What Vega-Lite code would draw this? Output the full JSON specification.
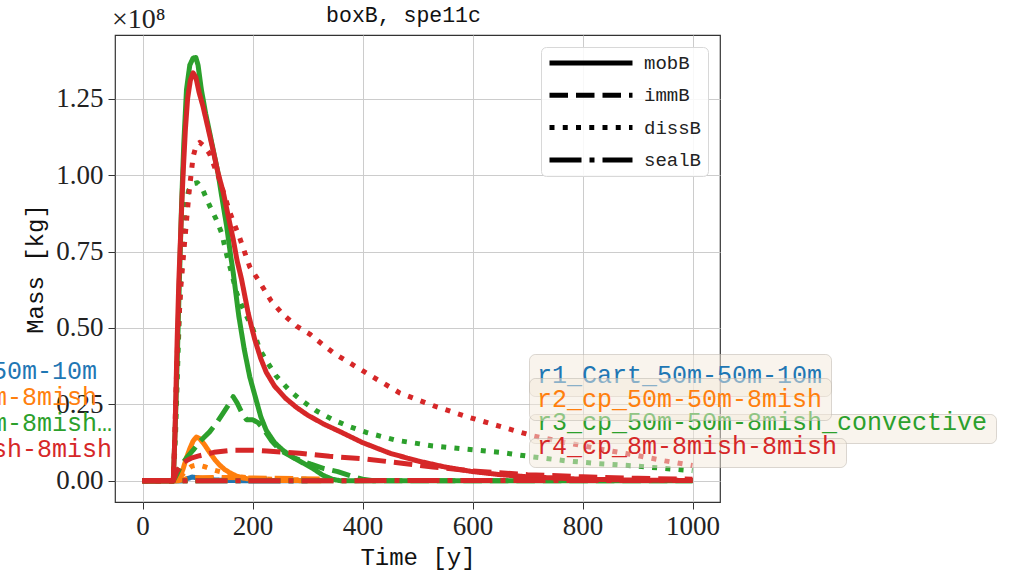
{
"$schema": "https://vega.github.io/schema/vega-lite/v6.json",
"width": 605,
"height": 467,
"autosize": {"type": "none"},
"padding": {"left": 115, "top": 35, "right": 292, "bottom": 71},
"background": "white",
"title": {"text": "boxB, spe11c", "font": "Liberation Mono", "fontSize": 21.5, "fontWeight": "normal", "color": "#111", "offset": -37, "baseline": "alphabetic", "anchor": "middle", "frame": "group", "dx": -14},
"config": {
  "view": {"stroke": "#333", "strokeWidth": 1.2},
  "axis": {"grid": true, "gridColor": "#cccccc", "gridWidth": 1, "domain": false, "tickColor": "#333", "tickSize": 7, "labelFont": "Liberation Serif", "labelFontSize": 27, "labelColor": "#222", "titleFont": "Liberation Mono", "titleFontSize": 24, "titleFontWeight": "normal", "titleColor": "#111", "labelFlush": false, "labelOverlap": false},
  "legend": {"title": null, "orient": "none", "direction": "vertical", "symbolOpacity": 0, "symbolSize": 0, "symbolStrokeWidth": 0, "labelFont": "Liberation Mono", "labelFontSize": 25, "labelLimit": 1000}
},
"datasets": {
  "runs": [
    {"panel": "r1_Cart_50m-50m-10m"},
    {"panel": "r2_cp_50m-50m-8mish"},
    {"panel": "r3_cp_50m-50m-8mish_convective"},
    {"panel": "r4_cp_8m-8mish-8mish"}
  ],
  "series": [
    {"run":"r1_Cart_50m-50m-10m","kind":"mobB","t":0,"m":0},
    {"run":"r1_Cart_50m-50m-10m","kind":"mobB","t":70,"m":0},
    {"run":"r1_Cart_50m-50m-10m","kind":"mobB","t":80,"m":0.006e8},
    {"run":"r1_Cart_50m-50m-10m","kind":"mobB","t":90,"m":0.012e8},
    {"run":"r1_Cart_50m-50m-10m","kind":"mobB","t":100,"m":0.01e8},
    {"run":"r1_Cart_50m-50m-10m","kind":"mobB","t":120,"m":0.004e8},
    {"run":"r1_Cart_50m-50m-10m","kind":"mobB","t":150,"m":0.001e8},
    {"run":"r1_Cart_50m-50m-10m","kind":"mobB","t":200,"m":0},
    {"run":"r1_Cart_50m-50m-10m","kind":"mobB","t":300,"m":0},
    {"run":"r1_Cart_50m-50m-10m","kind":"immB","t":0,"m":0},
    {"run":"r1_Cart_50m-50m-10m","kind":"immB","t":70,"m":0},
    {"run":"r1_Cart_50m-50m-10m","kind":"immB","t":100,"m":0.004e8},
    {"run":"r1_Cart_50m-50m-10m","kind":"immB","t":150,"m":0.005e8},
    {"run":"r1_Cart_50m-50m-10m","kind":"immB","t":200,"m":0.004e8},
    {"run":"r1_Cart_50m-50m-10m","kind":"immB","t":300,"m":0.003e8},
    {"run":"r1_Cart_50m-50m-10m","kind":"dissB","t":0,"m":0},
    {"run":"r1_Cart_50m-50m-10m","kind":"dissB","t":70,"m":0},
    {"run":"r1_Cart_50m-50m-10m","kind":"dissB","t":100,"m":0.006e8},
    {"run":"r1_Cart_50m-50m-10m","kind":"dissB","t":150,"m":0.007e8},
    {"run":"r1_Cart_50m-50m-10m","kind":"dissB","t":200,"m":0.006e8},
    {"run":"r1_Cart_50m-50m-10m","kind":"dissB","t":300,"m":0.005e8},
    {"run":"r1_Cart_50m-50m-10m","kind":"sealB","t":0,"m":0},
    {"run":"r1_Cart_50m-50m-10m","kind":"sealB","t":300,"m":0},

    {"run":"r2_cp_50m-50m-8mish","kind":"mobB","t":0,"m":0},
    {"run":"r2_cp_50m-50m-8mish","kind":"mobB","t":62,"m":0},
    {"run":"r2_cp_50m-50m-8mish","kind":"mobB","t":68,"m":0.01e8},
    {"run":"r2_cp_50m-50m-8mish","kind":"mobB","t":74,"m":0.04e8},
    {"run":"r2_cp_50m-50m-8mish","kind":"mobB","t":80,"m":0.075e8},
    {"run":"r2_cp_50m-50m-8mish","kind":"mobB","t":86,"m":0.105e8},
    {"run":"r2_cp_50m-50m-8mish","kind":"mobB","t":92,"m":0.13e8},
    {"run":"r2_cp_50m-50m-8mish","kind":"mobB","t":98,"m":0.143e8},
    {"run":"r2_cp_50m-50m-8mish","kind":"mobB","t":104,"m":0.138e8},
    {"run":"r2_cp_50m-50m-8mish","kind":"mobB","t":112,"m":0.12e8},
    {"run":"r2_cp_50m-50m-8mish","kind":"mobB","t":122,"m":0.093e8},
    {"run":"r2_cp_50m-50m-8mish","kind":"mobB","t":132,"m":0.068e8},
    {"run":"r2_cp_50m-50m-8mish","kind":"mobB","t":141,"m":0.05e8},
    {"run":"r2_cp_50m-50m-8mish","kind":"mobB","t":150,"m":0.036e8},
    {"run":"r2_cp_50m-50m-8mish","kind":"mobB","t":159,"m":0.026e8},
    {"run":"r2_cp_50m-50m-8mish","kind":"mobB","t":170,"m":0.016e8},
    {"run":"r2_cp_50m-50m-8mish","kind":"mobB","t":183,"m":0.009e8},
    {"run":"r2_cp_50m-50m-8mish","kind":"mobB","t":200,"m":0.004e8},
    {"run":"r2_cp_50m-50m-8mish","kind":"mobB","t":230,"m":0.001e8},
    {"run":"r2_cp_50m-50m-8mish","kind":"mobB","t":325,"m":0},
    {"run":"r2_cp_50m-50m-8mish","kind":"immB","t":0,"m":0},
    {"run":"r2_cp_50m-50m-8mish","kind":"immB","t":65,"m":0},
    {"run":"r2_cp_50m-50m-8mish","kind":"immB","t":80,"m":0.006e8},
    {"run":"r2_cp_50m-50m-8mish","kind":"immB","t":100,"m":0.01e8},
    {"run":"r2_cp_50m-50m-8mish","kind":"immB","t":150,"m":0.011e8},
    {"run":"r2_cp_50m-50m-8mish","kind":"immB","t":200,"m":0.009e8},
    {"run":"r2_cp_50m-50m-8mish","kind":"immB","t":325,"m":0.006e8},
    {"run":"r2_cp_50m-50m-8mish","kind":"dissB","t":0,"m":0},
    {"run":"r2_cp_50m-50m-8mish","kind":"dissB","t":62,"m":0},
    {"run":"r2_cp_50m-50m-8mish","kind":"dissB","t":70,"m":0.015e8},
    {"run":"r2_cp_50m-50m-8mish","kind":"dissB","t":80,"m":0.035e8},
    {"run":"r2_cp_50m-50m-8mish","kind":"dissB","t":90,"m":0.048e8},
    {"run":"r2_cp_50m-50m-8mish","kind":"dissB","t":100,"m":0.052e8},
    {"run":"r2_cp_50m-50m-8mish","kind":"dissB","t":115,"m":0.045e8},
    {"run":"r2_cp_50m-50m-8mish","kind":"dissB","t":130,"m":0.035e8},
    {"run":"r2_cp_50m-50m-8mish","kind":"dissB","t":145,"m":0.028e8},
    {"run":"r2_cp_50m-50m-8mish","kind":"dissB","t":160,"m":0.02e8},
    {"run":"r2_cp_50m-50m-8mish","kind":"dissB","t":180,"m":0.012e8},
    {"run":"r2_cp_50m-50m-8mish","kind":"dissB","t":200,"m":0.008e8},
    {"run":"r2_cp_50m-50m-8mish","kind":"dissB","t":250,"m":0.004e8},
    {"run":"r2_cp_50m-50m-8mish","kind":"dissB","t":325,"m":0.002e8},
    {"run":"r2_cp_50m-50m-8mish","kind":"sealB","t":0,"m":0},
    {"run":"r2_cp_50m-50m-8mish","kind":"sealB","t":325,"m":0.001e8},

    {"run":"r3_cp_50m-50m-8mish_convective","kind":"mobB","t":0,"m":0},
    {"run":"r3_cp_50m-50m-8mish_convective","kind":"mobB","t":56,"m":0},
    {"run":"r3_cp_50m-50m-8mish_convective","kind":"mobB","t":60,"m":0.2e8},
    {"run":"r3_cp_50m-50m-8mish_convective","kind":"mobB","t":64,"m":0.45e8},
    {"run":"r3_cp_50m-50m-8mish_convective","kind":"mobB","t":67,"m":0.65e8},
    {"run":"r3_cp_50m-50m-8mish_convective","kind":"mobB","t":71,"m":0.9e8},
    {"run":"r3_cp_50m-50m-8mish_convective","kind":"mobB","t":75,"m":1.1e8},
    {"run":"r3_cp_50m-50m-8mish_convective","kind":"mobB","t":80,"m":1.28e8},
    {"run":"r3_cp_50m-50m-8mish_convective","kind":"mobB","t":86,"m":1.36e8},
    {"run":"r3_cp_50m-50m-8mish_convective","kind":"mobB","t":92,"m":1.383e8},
    {"run":"r3_cp_50m-50m-8mish_convective","kind":"mobB","t":97,"m":1.385e8},
    {"run":"r3_cp_50m-50m-8mish_convective","kind":"mobB","t":101,"m":1.36e8},
    {"run":"r3_cp_50m-50m-8mish_convective","kind":"mobB","t":107,"m":1.28e8},
    {"run":"r3_cp_50m-50m-8mish_convective","kind":"mobB","t":115,"m":1.2e8},
    {"run":"r3_cp_50m-50m-8mish_convective","kind":"mobB","t":122,"m":1.14e8},
    {"run":"r3_cp_50m-50m-8mish_convective","kind":"mobB","t":130,"m":1.07e8},
    {"run":"r3_cp_50m-50m-8mish_convective","kind":"mobB","t":137,"m":1.01e8},
    {"run":"r3_cp_50m-50m-8mish_convective","kind":"mobB","t":145,"m":0.92e8},
    {"run":"r3_cp_50m-50m-8mish_convective","kind":"mobB","t":153,"m":0.833e8},
    {"run":"r3_cp_50m-50m-8mish_convective","kind":"mobB","t":160,"m":0.74e8},
    {"run":"r3_cp_50m-50m-8mish_convective","kind":"mobB","t":165,"m":0.68e8},
    {"run":"r3_cp_50m-50m-8mish_convective","kind":"mobB","t":175,"m":0.54e8},
    {"run":"r3_cp_50m-50m-8mish_convective","kind":"mobB","t":185,"m":0.43e8},
    {"run":"r3_cp_50m-50m-8mish_convective","kind":"mobB","t":195,"m":0.34e8},
    {"run":"r3_cp_50m-50m-8mish_convective","kind":"mobB","t":205,"m":0.275e8},
    {"run":"r3_cp_50m-50m-8mish_convective","kind":"mobB","t":215,"m":0.21e8},
    {"run":"r3_cp_50m-50m-8mish_convective","kind":"mobB","t":225,"m":0.165e8},
    {"run":"r3_cp_50m-50m-8mish_convective","kind":"mobB","t":240,"m":0.125e8},
    {"run":"r3_cp_50m-50m-8mish_convective","kind":"mobB","t":255,"m":0.1e8},
    {"run":"r3_cp_50m-50m-8mish_convective","kind":"mobB","t":275,"m":0.075e8},
    {"run":"r3_cp_50m-50m-8mish_convective","kind":"mobB","t":292,"m":0.058e8},
    {"run":"r3_cp_50m-50m-8mish_convective","kind":"mobB","t":310,"m":0.04e8},
    {"run":"r3_cp_50m-50m-8mish_convective","kind":"mobB","t":328,"m":0.018e8},
    {"run":"r3_cp_50m-50m-8mish_convective","kind":"mobB","t":345,"m":0.005e8},
    {"run":"r3_cp_50m-50m-8mish_convective","kind":"mobB","t":360,"m":0},
    {"run":"r3_cp_50m-50m-8mish_convective","kind":"mobB","t":1000,"m":0},
    {"run":"r3_cp_50m-50m-8mish_convective","kind":"immB","t":0,"m":0},
    {"run":"r3_cp_50m-50m-8mish_convective","kind":"immB","t":56,"m":0},
    {"run":"r3_cp_50m-50m-8mish_convective","kind":"immB","t":62,"m":0.02e8},
    {"run":"r3_cp_50m-50m-8mish_convective","kind":"immB","t":70,"m":0.05e8},
    {"run":"r3_cp_50m-50m-8mish_convective","kind":"immB","t":80,"m":0.075e8},
    {"run":"r3_cp_50m-50m-8mish_convective","kind":"immB","t":92,"m":0.1e8},
    {"run":"r3_cp_50m-50m-8mish_convective","kind":"immB","t":105,"m":0.13e8},
    {"run":"r3_cp_50m-50m-8mish_convective","kind":"immB","t":122,"m":0.16e8},
    {"run":"r3_cp_50m-50m-8mish_convective","kind":"immB","t":135,"m":0.19e8},
    {"run":"r3_cp_50m-50m-8mish_convective","kind":"immB","t":146,"m":0.22e8},
    {"run":"r3_cp_50m-50m-8mish_convective","kind":"immB","t":157,"m":0.25e8},
    {"run":"r3_cp_50m-50m-8mish_convective","kind":"immB","t":165,"m":0.275e8},
    {"run":"r3_cp_50m-50m-8mish_convective","kind":"immB","t":172,"m":0.255e8},
    {"run":"r3_cp_50m-50m-8mish_convective","kind":"immB","t":180,"m":0.225e8},
    {"run":"r3_cp_50m-50m-8mish_convective","kind":"immB","t":189,"m":0.2e8},
    {"run":"r3_cp_50m-50m-8mish_convective","kind":"immB","t":200,"m":0.2e8},
    {"run":"r3_cp_50m-50m-8mish_convective","kind":"immB","t":210,"m":0.19e8},
    {"run":"r3_cp_50m-50m-8mish_convective","kind":"immB","t":220,"m":0.17e8},
    {"run":"r3_cp_50m-50m-8mish_convective","kind":"immB","t":235,"m":0.13e8},
    {"run":"r3_cp_50m-50m-8mish_convective","kind":"immB","t":250,"m":0.1e8},
    {"run":"r3_cp_50m-50m-8mish_convective","kind":"immB","t":275,"m":0.075e8},
    {"run":"r3_cp_50m-50m-8mish_convective","kind":"immB","t":305,"m":0.055e8},
    {"run":"r3_cp_50m-50m-8mish_convective","kind":"immB","t":330,"m":0.04e8},
    {"run":"r3_cp_50m-50m-8mish_convective","kind":"immB","t":355,"m":0.03e8},
    {"run":"r3_cp_50m-50m-8mish_convective","kind":"immB","t":380,"m":0.015e8},
    {"run":"r3_cp_50m-50m-8mish_convective","kind":"immB","t":400,"m":0.005e8},
    {"run":"r3_cp_50m-50m-8mish_convective","kind":"immB","t":420,"m":0},
    {"run":"r3_cp_50m-50m-8mish_convective","kind":"immB","t":1000,"m":0},
    {"run":"r3_cp_50m-50m-8mish_convective","kind":"dissB","t":0,"m":0},
    {"run":"r3_cp_50m-50m-8mish_convective","kind":"dissB","t":56,"m":0},
    {"run":"r3_cp_50m-50m-8mish_convective","kind":"dissB","t":60,"m":0.15e8},
    {"run":"r3_cp_50m-50m-8mish_convective","kind":"dissB","t":64,"m":0.38e8},
    {"run":"r3_cp_50m-50m-8mish_convective","kind":"dissB","t":68,"m":0.6e8},
    {"run":"r3_cp_50m-50m-8mish_convective","kind":"dissB","t":73,"m":0.8e8},
    {"run":"r3_cp_50m-50m-8mish_convective","kind":"dissB","t":78,"m":0.9e8},
    {"run":"r3_cp_50m-50m-8mish_convective","kind":"dissB","t":84,"m":0.95e8},
    {"run":"r3_cp_50m-50m-8mish_convective","kind":"dissB","t":92,"m":0.972e8},
    {"run":"r3_cp_50m-50m-8mish_convective","kind":"dissB","t":100,"m":0.975e8},
    {"run":"r3_cp_50m-50m-8mish_convective","kind":"dissB","t":110,"m":0.95e8},
    {"run":"r3_cp_50m-50m-8mish_convective","kind":"dissB","t":122,"m":0.9e8},
    {"run":"r3_cp_50m-50m-8mish_convective","kind":"dissB","t":134,"m":0.855e8},
    {"run":"r3_cp_50m-50m-8mish_convective","kind":"dissB","t":144,"m":0.81e8},
    {"run":"r3_cp_50m-50m-8mish_convective","kind":"dissB","t":153,"m":0.74e8},
    {"run":"r3_cp_50m-50m-8mish_convective","kind":"dissB","t":162,"m":0.68e8},
    {"run":"r3_cp_50m-50m-8mish_convective","kind":"dissB","t":171,"m":0.615e8},
    {"run":"r3_cp_50m-50m-8mish_convective","kind":"dissB","t":180,"m":0.575e8},
    {"run":"r3_cp_50m-50m-8mish_convective","kind":"dissB","t":189,"m":0.54e8},
    {"run":"r3_cp_50m-50m-8mish_convective","kind":"dissB","t":201,"m":0.495e8},
    {"run":"r3_cp_50m-50m-8mish_convective","kind":"dissB","t":213,"m":0.43e8},
    {"run":"r3_cp_50m-50m-8mish_convective","kind":"dissB","t":228,"m":0.385e8},
    {"run":"r3_cp_50m-50m-8mish_convective","kind":"dissB","t":243,"m":0.343e8},
    {"run":"r3_cp_50m-50m-8mish_convective","kind":"dissB","t":265,"m":0.3e8},
    {"run":"r3_cp_50m-50m-8mish_convective","kind":"dissB","t":286,"m":0.267e8},
    {"run":"r3_cp_50m-50m-8mish_convective","kind":"dissB","t":315,"m":0.23e8},
    {"run":"r3_cp_50m-50m-8mish_convective","kind":"dissB","t":346,"m":0.2e8},
    {"run":"r3_cp_50m-50m-8mish_convective","kind":"dissB","t":375,"m":0.178e8},
    {"run":"r3_cp_50m-50m-8mish_convective","kind":"dissB","t":407,"m":0.158e8},
    {"run":"r3_cp_50m-50m-8mish_convective","kind":"dissB","t":460,"m":0.133e8},
    {"run":"r3_cp_50m-50m-8mish_convective","kind":"dissB","t":528,"m":0.114e8},
    {"run":"r3_cp_50m-50m-8mish_convective","kind":"dissB","t":590,"m":0.103e8},
    {"run":"r3_cp_50m-50m-8mish_convective","kind":"dissB","t":650,"m":0.093e8},
    {"run":"r3_cp_50m-50m-8mish_convective","kind":"dissB","t":710,"m":0.078e8},
    {"run":"r3_cp_50m-50m-8mish_convective","kind":"dissB","t":771,"m":0.065e8},
    {"run":"r3_cp_50m-50m-8mish_convective","kind":"dissB","t":830,"m":0.056e8},
    {"run":"r3_cp_50m-50m-8mish_convective","kind":"dissB","t":892,"m":0.049e8},
    {"run":"r3_cp_50m-50m-8mish_convective","kind":"dissB","t":950,"m":0.04e8},
    {"run":"r3_cp_50m-50m-8mish_convective","kind":"dissB","t":1000,"m":0.033e8},
    {"run":"r3_cp_50m-50m-8mish_convective","kind":"sealB","t":0,"m":0},
    {"run":"r3_cp_50m-50m-8mish_convective","kind":"sealB","t":1000,"m":0.001e8},

    {"run":"r4_cp_8m-8mish-8mish","kind":"mobB","t":0,"m":0},
    {"run":"r4_cp_8m-8mish-8mish","kind":"mobB","t":56,"m":0},
    {"run":"r4_cp_8m-8mish-8mish","kind":"mobB","t":59,"m":0.15e8},
    {"run":"r4_cp_8m-8mish-8mish","kind":"mobB","t":63,"m":0.46e8},
    {"run":"r4_cp_8m-8mish-8mish","kind":"mobB","t":66,"m":0.65e8},
    {"run":"r4_cp_8m-8mish-8mish","kind":"mobB","t":69,"m":0.79e8},
    {"run":"r4_cp_8m-8mish-8mish","kind":"mobB","t":72,"m":0.93e8},
    {"run":"r4_cp_8m-8mish-8mish","kind":"mobB","t":74,"m":1.01e8},
    {"run":"r4_cp_8m-8mish-8mish","kind":"mobB","t":78,"m":1.15e8},
    {"run":"r4_cp_8m-8mish-8mish","kind":"mobB","t":82,"m":1.25e8},
    {"run":"r4_cp_8m-8mish-8mish","kind":"mobB","t":87,"m":1.31e8},
    {"run":"r4_cp_8m-8mish-8mish","kind":"mobB","t":92,"m":1.335e8},
    {"run":"r4_cp_8m-8mish-8mish","kind":"mobB","t":97,"m":1.32e8},
    {"run":"r4_cp_8m-8mish-8mish","kind":"mobB","t":103,"m":1.27e8},
    {"run":"r4_cp_8m-8mish-8mish","kind":"mobB","t":110,"m":1.225e8},
    {"run":"r4_cp_8m-8mish-8mish","kind":"mobB","t":119,"m":1.155e8},
    {"run":"r4_cp_8m-8mish-8mish","kind":"mobB","t":128,"m":1.084e8},
    {"run":"r4_cp_8m-8mish-8mish","kind":"mobB","t":137,"m":1.01e8},
    {"run":"r4_cp_8m-8mish-8mish","kind":"mobB","t":147,"m":0.943e8},
    {"run":"r4_cp_8m-8mish-8mish","kind":"mobB","t":156,"m":0.865e8},
    {"run":"r4_cp_8m-8mish-8mish","kind":"mobB","t":165,"m":0.79e8},
    {"run":"r4_cp_8m-8mish-8mish","kind":"mobB","t":172,"m":0.72e8},
    {"run":"r4_cp_8m-8mish-8mish","kind":"mobB","t":180,"m":0.66e8},
    {"run":"r4_cp_8m-8mish-8mish","kind":"mobB","t":186,"m":0.605e8},
    {"run":"r4_cp_8m-8mish-8mish","kind":"mobB","t":192,"m":0.55e8},
    {"run":"r4_cp_8m-8mish-8mish","kind":"mobB","t":198,"m":0.505e8},
    {"run":"r4_cp_8m-8mish-8mish","kind":"mobB","t":204,"m":0.463e8},
    {"run":"r4_cp_8m-8mish-8mish","kind":"mobB","t":215,"m":0.4e8},
    {"run":"r4_cp_8m-8mish-8mish","kind":"mobB","t":225,"m":0.355e8},
    {"run":"r4_cp_8m-8mish-8mish","kind":"mobB","t":240,"m":0.31e8},
    {"run":"r4_cp_8m-8mish-8mish","kind":"mobB","t":260,"m":0.27e8},
    {"run":"r4_cp_8m-8mish-8mish","kind":"mobB","t":280,"m":0.24e8},
    {"run":"r4_cp_8m-8mish-8mish","kind":"mobB","t":300,"m":0.215e8},
    {"run":"r4_cp_8m-8mish-8mish","kind":"mobB","t":330,"m":0.185e8},
    {"run":"r4_cp_8m-8mish-8mish","kind":"mobB","t":360,"m":0.16e8},
    {"run":"r4_cp_8m-8mish-8mish","kind":"mobB","t":400,"m":0.125e8},
    {"run":"r4_cp_8m-8mish-8mish","kind":"mobB","t":450,"m":0.09e8},
    {"run":"r4_cp_8m-8mish-8mish","kind":"mobB","t":500,"m":0.065e8},
    {"run":"r4_cp_8m-8mish-8mish","kind":"mobB","t":550,"m":0.045e8},
    {"run":"r4_cp_8m-8mish-8mish","kind":"mobB","t":600,"m":0.03e8},
    {"run":"r4_cp_8m-8mish-8mish","kind":"mobB","t":650,"m":0.02e8},
    {"run":"r4_cp_8m-8mish-8mish","kind":"mobB","t":700,"m":0.013e8},
    {"run":"r4_cp_8m-8mish-8mish","kind":"mobB","t":800,"m":0.005e8},
    {"run":"r4_cp_8m-8mish-8mish","kind":"mobB","t":900,"m":0.002e8},
    {"run":"r4_cp_8m-8mish-8mish","kind":"mobB","t":1000,"m":0.001e8},
    {"run":"r4_cp_8m-8mish-8mish","kind":"immB","t":0,"m":0},
    {"run":"r4_cp_8m-8mish-8mish","kind":"immB","t":56,"m":0},
    {"run":"r4_cp_8m-8mish-8mish","kind":"immB","t":62,"m":0.03e8},
    {"run":"r4_cp_8m-8mish-8mish","kind":"immB","t":74,"m":0.06e8},
    {"run":"r4_cp_8m-8mish-8mish","kind":"immB","t":90,"m":0.075e8},
    {"run":"r4_cp_8m-8mish-8mish","kind":"immB","t":104,"m":0.082e8},
    {"run":"r4_cp_8m-8mish-8mish","kind":"immB","t":130,"m":0.093e8},
    {"run":"r4_cp_8m-8mish-8mish","kind":"immB","t":165,"m":0.1e8},
    {"run":"r4_cp_8m-8mish-8mish","kind":"immB","t":200,"m":0.1e8},
    {"run":"r4_cp_8m-8mish-8mish","kind":"immB","t":226,"m":0.097e8},
    {"run":"r4_cp_8m-8mish-8mish","kind":"immB","t":286,"m":0.09e8},
    {"run":"r4_cp_8m-8mish-8mish","kind":"immB","t":340,"m":0.08e8},
    {"run":"r4_cp_8m-8mish-8mish","kind":"immB","t":407,"m":0.071e8},
    {"run":"r4_cp_8m-8mish-8mish","kind":"immB","t":468,"m":0.058e8},
    {"run":"r4_cp_8m-8mish-8mish","kind":"immB","t":528,"m":0.045e8},
    {"run":"r4_cp_8m-8mish-8mish","kind":"immB","t":600,"m":0.032e8},
    {"run":"r4_cp_8m-8mish-8mish","kind":"immB","t":700,"m":0.02e8},
    {"run":"r4_cp_8m-8mish-8mish","kind":"immB","t":800,"m":0.013e8},
    {"run":"r4_cp_8m-8mish-8mish","kind":"immB","t":900,"m":0.008e8},
    {"run":"r4_cp_8m-8mish-8mish","kind":"immB","t":1000,"m":0.005e8},
    {"run":"r4_cp_8m-8mish-8mish","kind":"dissB","t":0,"m":0},
    {"run":"r4_cp_8m-8mish-8mish","kind":"dissB","t":56,"m":0},
    {"run":"r4_cp_8m-8mish-8mish","kind":"dissB","t":58,"m":0.1e8},
    {"run":"r4_cp_8m-8mish-8mish","kind":"dissB","t":61,"m":0.3e8},
    {"run":"r4_cp_8m-8mish-8mish","kind":"dissB","t":64,"m":0.46e8},
    {"run":"r4_cp_8m-8mish-8mish","kind":"dissB","t":70,"m":0.64e8},
    {"run":"r4_cp_8m-8mish-8mish","kind":"dissB","t":77,"m":0.79e8},
    {"run":"r4_cp_8m-8mish-8mish","kind":"dissB","t":85,"m":0.95e8},
    {"run":"r4_cp_8m-8mish-8mish","kind":"dissB","t":92,"m":1.06e8},
    {"run":"r4_cp_8m-8mish-8mish","kind":"dissB","t":98,"m":1.1e8},
    {"run":"r4_cp_8m-8mish-8mish","kind":"dissB","t":104,"m":1.107e8},
    {"run":"r4_cp_8m-8mish-8mish","kind":"dissB","t":112,"m":1.095e8},
    {"run":"r4_cp_8m-8mish-8mish","kind":"dissB","t":122,"m":1.07e8},
    {"run":"r4_cp_8m-8mish-8mish","kind":"dissB","t":140,"m":0.985e8},
    {"run":"r4_cp_8m-8mish-8mish","kind":"dissB","t":159,"m":0.877e8},
    {"run":"r4_cp_8m-8mish-8mish","kind":"dissB","t":177,"m":0.793e8},
    {"run":"r4_cp_8m-8mish-8mish","kind":"dissB","t":195,"m":0.7e8},
    {"run":"r4_cp_8m-8mish-8mish","kind":"dissB","t":213,"m":0.65e8},
    {"run":"r4_cp_8m-8mish-8mish","kind":"dissB","t":234,"m":0.588e8},
    {"run":"r4_cp_8m-8mish-8mish","kind":"dissB","t":255,"m":0.545e8},
    {"run":"r4_cp_8m-8mish-8mish","kind":"dissB","t":280,"m":0.506e8},
    {"run":"r4_cp_8m-8mish-8mish","kind":"dissB","t":304,"m":0.48e8},
    {"run":"r4_cp_8m-8mish-8mish","kind":"dissB","t":328,"m":0.445e8},
    {"run":"r4_cp_8m-8mish-8mish","kind":"dissB","t":350,"m":0.415e8},
    {"run":"r4_cp_8m-8mish-8mish","kind":"dissB","t":400,"m":0.36e8},
    {"run":"r4_cp_8m-8mish-8mish","kind":"dissB","t":468,"m":0.287e8},
    {"run":"r4_cp_8m-8mish-8mish","kind":"dissB","t":530,"m":0.245e8},
    {"run":"r4_cp_8m-8mish-8mish","kind":"dissB","t":589,"m":0.21e8},
    {"run":"r4_cp_8m-8mish-8mish","kind":"dissB","t":650,"m":0.178e8},
    {"run":"r4_cp_8m-8mish-8mish","kind":"dissB","t":710,"m":0.147e8},
    {"run":"r4_cp_8m-8mish-8mish","kind":"dissB","t":770,"m":0.125e8},
    {"run":"r4_cp_8m-8mish-8mish","kind":"dissB","t":831,"m":0.104e8},
    {"run":"r4_cp_8m-8mish-8mish","kind":"dissB","t":892,"m":0.085e8},
    {"run":"r4_cp_8m-8mish-8mish","kind":"dissB","t":950,"m":0.065e8},
    {"run":"r4_cp_8m-8mish-8mish","kind":"dissB","t":1000,"m":0.05e8},
    {"run":"r4_cp_8m-8mish-8mish","kind":"sealB","t":0,"m":0},
    {"run":"r4_cp_8m-8mish-8mish","kind":"sealB","t":1000,"m":0.001e8}
  ]
},
"layer": [
  {
    "data": {"name": "series"},
    "mark": {"type": "line", "strokeWidth": 5, "strokeJoin": "round", "clip": true},
    "encoding": {
      "x": {"field": "t", "type": "quantitative", "scale": {"domain": [-50, 1050], "nice": false, "zero": false},
            "axis": {"values": [0, 200, 400, 600, 800, 1000], "format": "d", "title": "Time [y]", "labelPadding": 4, "titlePadding": 6}},
      "y": {"field": "m", "type": "quantitative", "scale": {"domain": [-6950000, 145850000], "nice": false, "zero": false},
            "axis": {"values": [0, 25000000, 50000000, 75000000, 100000000, 125000000], "labelExpr": "format(datum.value / 1e8, '.2f')", "title": "Mass [kg]", "labelPadding": 5, "titlePadding": 8}},
      "color": {"field": "run", "type": "nominal",
        "scale": {"domain": ["r1_Cart_50m-50m-10m", "r2_cp_50m-50m-8mish", "r3_cp_50m-50m-8mish_convective", "r4_cp_8m-8mish-8mish"], "range": ["#1f77b4", "#ff7f0e", "#2ca02c", "#d62728"]},
        "legend": null},
      "strokeDash": {"field": "kind", "type": "nominal",
        "scale": {"domain": ["mobB", "immB", "dissB", "sealB"], "range": [[1, 0], [18.5, 8], [5, 8.25], [32, 8, 5, 8]]},
        "legend": {"title": null, "orient": "top-right", "offset": 12, "symbolType": "stroke", "symbolSize": 6889, "symbolStrokeWidth": 5, "symbolStrokeColor": "black", "symbolOpacity": 1,
          "clipHeight": 20,
          "labelFont": "Liberation Mono", "labelFontSize": 19, "labelColor": "#222", "labelOffset": 9, "rowPadding": 12.3, "padding": 6,
          "fillColor": "rgba(255,255,255,0.85)", "strokeColor": "#d8d8d8", "cornerRadius": 5}}
    }
  },
  {
    "data": {"name": "runs"},
    "mark": {"type": "point", "opacity": 0},
    "encoding": {
      "x": {"datum": 0},
      "y": {"datum": 0},
      "shape": {"field": "panel", "type": "nominal",
        "legend": {"legendX": -311, "legendY": 323.5, "padding": 0, "labelOffset": -17, "labelLimit": 304, "rowPadding": 0,
          "labelColor": {"expr": "scale('color', datum.value)"}}},
      "fill": {"field": "panel", "type": "nominal",
        "scale": {"domain": ["r1_Cart_50m-50m-10m"], "range": ["#ffffff"]},
        "legend": {"legendX": 414, "legendY": 319, "padding": 8, "labelOffset": -25,
          "fillColor": "rgba(243,233,220,0.5)", "strokeColor": "rgba(190,184,175,0.55)", "cornerRadius": 6,
          "labelColor": {"expr": "scale('color', datum.value)"}}},
      "stroke": {"field": "panel", "type": "nominal",
        "scale": {"domain": ["r2_cp_50m-50m-8mish"], "range": ["#ffffff"]},
        "legend": {"legendX": 414, "legendY": 343, "padding": 8, "labelOffset": -25,
          "fillColor": "rgba(243,233,220,0.5)", "strokeColor": "rgba(190,184,175,0.55)", "cornerRadius": 6,
          "labelColor": {"expr": "scale('color', datum.value)"}}},
      "size": {"field": "panel", "type": "ordinal",
        "scale": {"domain": ["r3_cp_50m-50m-8mish_convective"], "range": [30]},
        "legend": {"legendX": 414, "legendY": 379, "padding": 8, "labelOffset": -25,
          "fillColor": "rgba(243,233,220,0.5)", "strokeColor": "rgba(190,184,175,0.55)", "cornerRadius": 6,
          "labelColor": {"expr": "scale('color', datum.value)"}}},
      "strokeWidth": {"field": "panel", "type": "ordinal",
        "scale": {"domain": ["r4_cp_8m-8mish-8mish"], "range": [1]},
        "legend": {"legendX": 414, "legendY": 403, "padding": 8, "labelOffset": -25,
          "fillColor": "rgba(243,233,220,0.5)", "strokeColor": "rgba(190,184,175,0.55)", "cornerRadius": 6,
          "labelColor": {"expr": "scale('color', datum.value)"}}}
    }
  },
  {
    "data": {"values": [{"lab": "×10⁸"}]},
    "mark": {"type": "text", "align": "left", "baseline": "bottom", "font": "Liberation Serif", "fontSize": 28, "color": "#222", "dx": -3, "dy": -1, "clip": false},
    "encoding": {
      "x": {"datum": -50},
      "y": {"datum": 145850000},
      "text": {"field": "lab"}
    }
  }
]
}
